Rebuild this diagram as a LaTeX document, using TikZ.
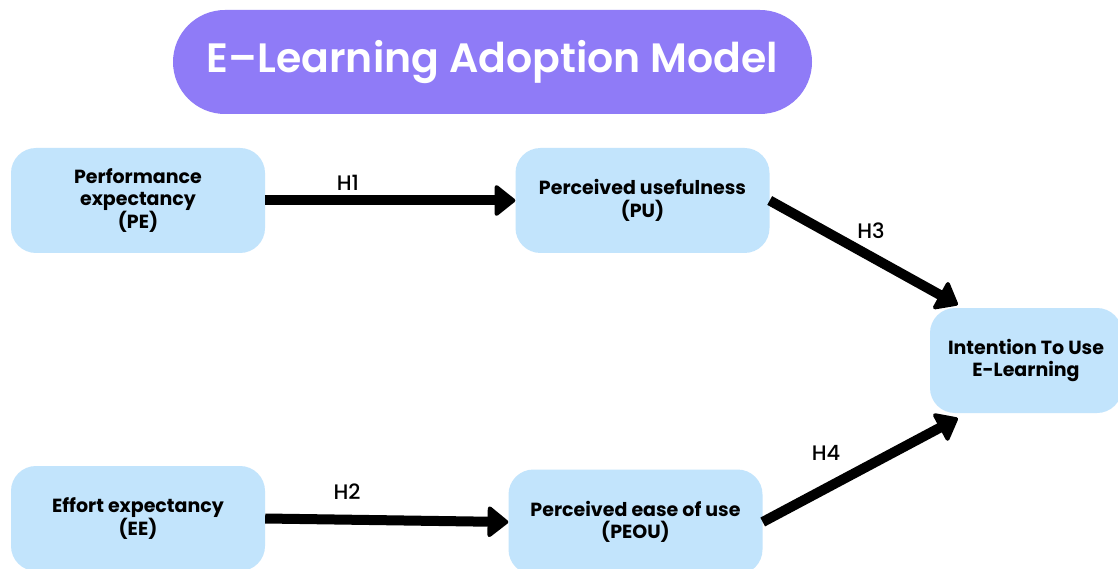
\documentclass[tikz,border=0pt]{standalone}
\usepackage{fontspec}
\setmainfont{Poppins}
\newfontfamily\titlefont{Poppins Medium}
\newfontfamily\headfont{Poppins SemiBold}
\usetikzlibrary{arrows.meta,calc}
\definecolor{pillpurple}{HTML}{8F7BF7}
\definecolor{boxblue}{HTML}{C2E4FC}
\tikzset{
  construct/.style={fill=boxblue, rounded corners=25pt, minimum width=254pt,
    minimum height=105pt, align=center, inner sep=0pt,
    font=\fontsize{19}{22.5}\selectfont\bfseries},
  hyp/.style={line width=10pt, -{Triangle[length=22pt,width=34pt,round,line width=4pt]}},
  hyplabel/.style={font=\titlefont\fontsize{21}{24}\selectfont, inner sep=0pt},
}
\begin{document}
\begin{tikzpicture}[x=1pt,y=-1pt]
\useasboundingbox (0,0) rectangle (1118,569);
\fill[white] (0,0) rectangle (1118,569);

% title pill
\node[fill=pillpurple, rounded corners=52pt, minimum width=639pt, minimum height=104pt,
  text=white, inner sep=0pt, font=\headfont\fontsize{41}{48}\selectfont]
  (title) at (492.5,62) {E–Learning Adoption Model};

% constructs
\node[construct] (PE) at (138,200.5) {Performance\\expectancy\\(PE)};
\node[construct] (PU) at (642.5,200.5) {Perceived usefulness\\(PU)};
\node[construct] (EE) at (138,518.5) {Effort expectancy\\(EE)};
\node[construct] (PEOU) at (635.5,522) {Perceived ease of use\\(PEOU)};
\node[construct, minimum width=192pt] (ITU) at (1026,360.5) {Intention To Use\\E-Learning};

% hypothesised paths
\coordinate (h3end) at ($(ITU.north west)+(28,-3)$);
\coordinate (h4end) at ($(ITU.south west)+(28,5)$);
\draw[hyp] (PE.east) -- (PU.west);
\draw[hyp] (EE.east) -- (PEOU.west);
\draw[hyp] (PU.east) -- (h3end);
\draw[hyp] (PEOU.east) -- (h4end);

% path labels
\node[hyplabel] (l1) at (348,183) {H1};
\node[hyplabel] (l2) at (347,492) {H2};
\node[hyplabel] (l3) at (871,231) {H3};
\node[hyplabel] (l4) at (826,453) {H4};
\end{tikzpicture}
\end{document}
